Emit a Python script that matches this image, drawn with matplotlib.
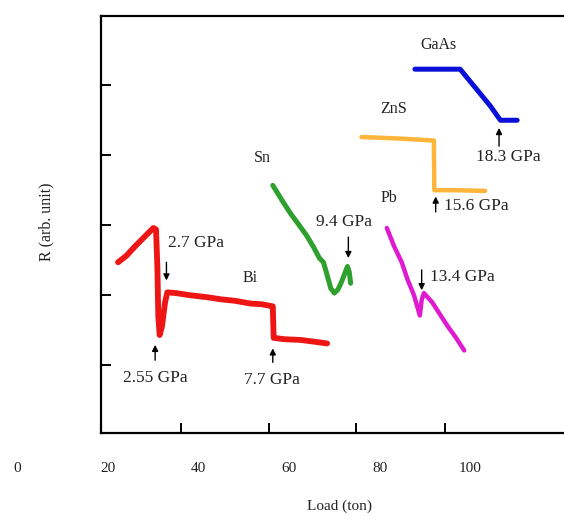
import matplotlib
matplotlib.use("Agg")
import matplotlib.pyplot as plt
from matplotlib.transforms import blended_transform_factory

plt.rcParams['font.family'] = ['Liberation Serif', 'DejaVu Serif']

# ---- data (x: load in ton, y: R in arbitrary units) ----
bi_x = [22.2, 24.0, 26.0, 28.0, 30.0, 30.6, 30.9, 31.1, 31.4, 31.9, 32.6, 33.1, 35.0, 38.0, 42.0, 45.0, 48.0, 51.5, 54.0, 56.4, 56.6, 59.0, 62.5, 65.0, 68.4]
bi_y = [2.47, 2.56, 2.70, 2.83, 2.96, 2.94, 2.40, 1.70, 1.43, 1.55, 1.90, 2.04, 2.03, 2.00, 1.97, 1.94, 1.92, 1.88, 1.87, 1.84, 1.39, 1.37, 1.36, 1.34, 1.31]

sn_x = [56.4, 58.5, 60.4, 62.0, 63.8, 65.3, 66.7, 67.6, 68.4, 69.2, 70.0, 70.8, 71.6, 72.9, 73.3, 73.6]
sn_y = [3.57, 3.35, 3.16, 3.02, 2.86, 2.70, 2.53, 2.47, 2.29, 2.10, 2.03, 2.08, 2.19, 2.41, 2.33, 2.17]

pb_x = [81.6, 83.2, 84.9, 86.2, 87.6, 88.9, 89.3, 89.8, 91.6, 93.2, 94.9, 96.8, 98.7]
pb_y = [2.96, 2.70, 2.47, 2.22, 2.00, 1.71, 1.93, 2.03, 1.90, 1.74, 1.57, 1.40, 1.21]

zns_x = [76.0, 84.0, 92.0, 92.1, 97.0, 103.3]
zns_y = [4.26, 4.24, 4.21, 3.50, 3.50, 3.49]

gaas_x = [87.8, 92.0, 97.8, 104.4, 106.7, 108.5, 110.4]
gaas_y = [5.23, 5.23, 5.23, 4.71, 4.50, 4.50, 4.50]

xtick_values = [0, 20, 40, 60, 80, 100]
xtick_labels = ['0', '20', '40', '60', '80', '100']
xtick_marks = [36.2, 55.6, 74.9, 94.4]
ytick_marks = [1, 2, 3, 4, 5]

# (label, arrow x, arrow tail y, arrow head y, text x, text y, ha)
transitions = [
    ('2.55 GPa', 30.4, 1.07, 1.29, 30.4, 0.81, 'center'),
    ('2.7 GPa', 32.9, 2.47, 2.21, 33.3, 2.74, 'left'),
    ('7.7 GPa', 56.4, 1.04, 1.24, 56.2, 0.79, 'center'),
    ('9.4 GPa', 73.1, 2.83, 2.53, 72.2, 3.04, 'center'),
    ('13.4 GPa', 89.3, 2.36, 2.07, 91.1, 2.26, 'left'),
    ('15.6 GPa', 92.4, 3.19, 3.41, 94.2, 3.27, 'left'),
    ('18.3 GPa', 106.4, 4.13, 4.39, 108.4, 3.97, 'center'),
]
names = [('Bi', 51.3, 2.24), ('Sn', 54.0, 3.96), ('Pb', 82.0, 3.39),
         ('ZnS', 83.1, 4.66), ('GaAs', 93.1, 5.57)]

fig = plt.figure(figsize=(5.64, 5.19), dpi=100)
ax = fig.add_axes([101 / 564, 86 / 519, 1 - 101 / 564 + 0.01, 417 / 519])

ax.plot(bi_x, bi_y, color='#ee1515', lw=4.2, solid_capstyle='round', solid_joinstyle='round')
ax.plot(sn_x, sn_y, color='#2ea02e', lw=3.6, solid_capstyle='round', solid_joinstyle='round')
ax.plot(pb_x, pb_y, color='#e01ad0', lw=3.2, solid_capstyle='round', solid_joinstyle='round')
ax.plot(zns_x, zns_y, color='#ffb43a', lw=3.2, solid_capstyle='round', solid_joinstyle='round')
ax.plot(gaas_x, gaas_y, color='#0a10d8', lw=3.6, solid_capstyle='round', solid_joinstyle='round')

tc = '#222222'
fs = 12.5
for lab, ax_x, y0, y1, tx, ty, ha in transitions:
    ax.annotate('', xy=(ax_x, y1), xytext=(ax_x, y0),
                arrowprops=dict(arrowstyle='-|>', color='black', lw=1.0,
                                mutation_scale=9, shrinkA=0, shrinkB=0))
    ax.text(tx, ty, lab, ha=ha, va='center', fontsize=fs, color=tc)
for lab, tx, ty in names:
    ax.text(tx, ty, lab, ha='center', va='center', fontsize=11.5, color=tc)

ax.set_xlim(18.44, 122.0)
ax.set_ylim(0.03, 5.99)

ax.set_xticks(xtick_marks)
ax.set_xticklabels([])
ax.set_yticks(ytick_marks)
ax.set_yticklabels([])
ax.tick_params(direction='in', length=7, width=1.4, colors='black')
ax.spines['right'].set_visible(False)
for s in ['left', 'bottom', 'top']:
    ax.spines[s].set_linewidth(1.6)

trans = blended_transform_factory(ax.transData, ax.transAxes)
for v, lab in zip(xtick_values, xtick_labels):
    ax.text(v, -0.084, lab, transform=trans, ha='center', va='center',
            fontsize=11, color=tc, clip_on=False)

ax.set_xlabel('Load (ton)', fontsize=11, color=tc)
ax.xaxis.set_label_coords(0.508, -0.16)
ax.set_ylabel('R (arb. unit)', fontsize=11.5, color=tc)
ax.yaxis.set_label_coords(-0.099, 0.506)

fig.savefig('out.png', dpi=100)
